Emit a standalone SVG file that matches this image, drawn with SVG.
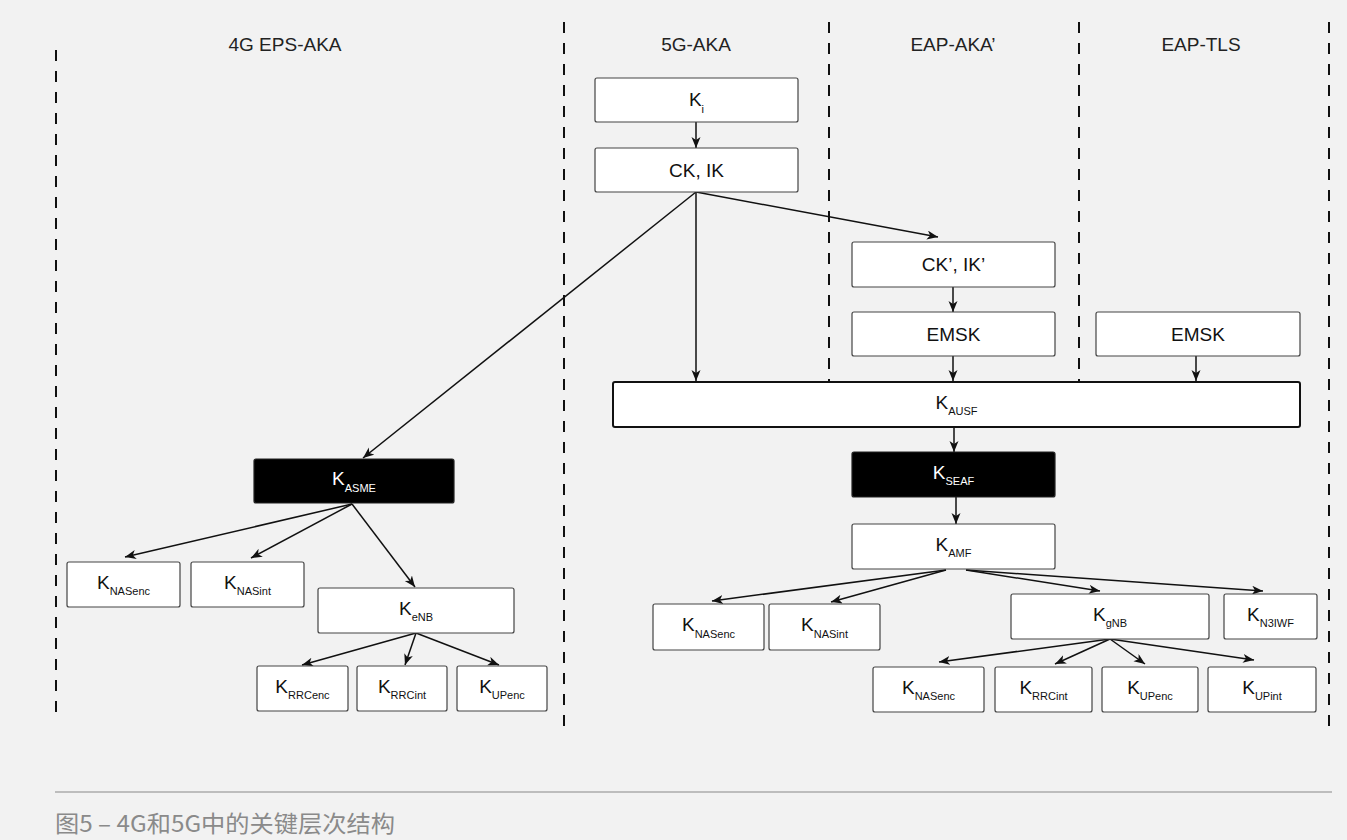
<svg xmlns="http://www.w3.org/2000/svg" width="1347" height="840" viewBox="0 0 1347 840">
<style>
.bg{fill:#f2f2f2}
.dash{stroke:#111;stroke-width:2;stroke-dasharray:11 10;fill:none}
.hdr{font-family:"Liberation Sans",Arial,sans-serif;font-size:19px;fill:#222;text-anchor:middle}
.box{fill:#fff;stroke:#444;stroke-width:1.2}
.boxb{fill:#000;stroke:#222;stroke-width:1.2}
.boxw{fill:#fff;stroke:#111;stroke-width:2}
.t{font-family:"Liberation Sans",Arial,sans-serif;font-size:19px;fill:#111;text-anchor:middle}
.tw{font-family:"Liberation Sans",Arial,sans-serif;font-size:19px;fill:#fff;text-anchor:middle}
.s{font-size:11px}
.c line{stroke:#111;stroke-width:1.5;marker-end:url(#ah)}
.cap{font-family:"Noto Sans CJK SC","Noto Sans",sans-serif;font-size:23px;fill:#8a8a8a}
</style>
<defs>
<marker id="ah" markerUnits="userSpaceOnUse" markerWidth="12" markerHeight="10" refX="11" refY="4.5" orient="auto">
<path d="M0,0 L11,4.5 L0,9 L3,4.5 z" fill="#111"/>
</marker>
</defs>
<rect class="bg" x="0" y="0" width="1347" height="840"/>
<g id="lanes">
<line class="dash" x1="56" y1="50" x2="56" y2="719"/>
<line class="dash" x1="564" y1="22" x2="564" y2="726"/>
<line class="dash" x1="829" y1="22" x2="829" y2="382"/>
<line class="dash" x1="1079" y1="22" x2="1079" y2="382"/>
<line class="dash" x1="1329" y1="22" x2="1329" y2="727"/>
<text class="hdr" x="285" y="51">4G EPS-AKA</text>
<text class="hdr" x="696" y="51">5G-AKA</text>
<text class="hdr" x="953" y="51">EAP-AKA’</text>
<text class="hdr" x="1201" y="51">EAP-TLS</text>
</g>
<g id="connectors" class="c">
<line x1="696" y1="122" x2="696" y2="148"/>
<line x1="696" y1="192" x2="363" y2="458"/>
<line x1="696" y1="192" x2="696" y2="381"/>
<line x1="696" y1="192" x2="938" y2="237"/>
<line x1="953" y1="287" x2="953" y2="312"/>
<line x1="953" y1="356" x2="953" y2="381"/>
<line x1="1196" y1="356" x2="1196" y2="381"/>
<line x1="954" y1="427" x2="954" y2="452"/>
<line x1="956" y1="497" x2="956" y2="524"/>
<line x1="946" y1="570" x2="712" y2="601"/>
<line x1="946" y1="570" x2="831" y2="602"/>
<line x1="966" y1="570" x2="1100" y2="591"/>
<line x1="966" y1="570" x2="1263" y2="591"/>
<line x1="1110" y1="639" x2="939" y2="662"/>
<line x1="1110" y1="639" x2="1055" y2="664"/>
<line x1="1110" y1="639" x2="1145" y2="664"/>
<line x1="1110" y1="639" x2="1254" y2="660"/>
<line x1="352" y1="504" x2="125" y2="557"/>
<line x1="352" y1="504" x2="251" y2="558"/>
<line x1="352" y1="504" x2="415" y2="587"/>
<line x1="416" y1="633" x2="302" y2="665"/>
<line x1="416" y1="633" x2="405" y2="665"/>
<line x1="416" y1="633" x2="499" y2="665"/>
</g>
<g id="n-ki"><rect class="box" x="595" y="78" width="203" height="44" rx="2"/><text class="t" x="696.5" y="106">K<tspan class="s" dy="6.5">i</tspan></text></g>
<g id="n-ckik"><rect class="box" x="595" y="148" width="203" height="44" rx="2"/><text class="t" x="696.5" y="177">CK, IK</text></g>
<g id="n-ckpikp"><rect class="box" x="852" y="242" width="203" height="45" rx="2"/><text class="t" x="953.5" y="271">CK’, IK’</text></g>
<g id="n-emsk1"><rect class="box" x="852" y="312" width="203" height="44" rx="2"/><text class="t" x="953.5" y="341">EMSK</text></g>
<g id="n-emsk2"><rect class="box" x="1096" y="312" width="204" height="44" rx="2"/><text class="t" x="1198" y="341">EMSK</text></g>
<g id="n-kausf"><rect class="boxw" x="613" y="382" width="687" height="45" rx="2"/><text class="t" x="956.5" y="408.5">K<tspan class="s" dy="6.5">AUSF</tspan></text></g>
<g id="n-kseaf"><rect class="boxb" x="852" y="452" width="203" height="45" rx="2"/><text class="tw" x="953.5" y="478.5">K<tspan class="s" dy="6.5">SEAF</tspan></text></g>
<g id="n-kamf"><rect class="box" x="852" y="524" width="203" height="45" rx="2"/><text class="t" x="953.5" y="550.5">K<tspan class="s" dy="6.5">AMF</tspan></text></g>
<g id="n-knasenc5"><rect class="box" x="653" y="604" width="111" height="46" rx="2"/><text class="t" x="708.5" y="631">K<tspan class="s" dy="6.5">NASenc</tspan></text></g>
<g id="n-knasint5"><rect class="box" x="769" y="604" width="111" height="46" rx="2"/><text class="t" x="824.5" y="631">K<tspan class="s" dy="6.5">NASint</tspan></text></g>
<g id="n-kgnb"><rect class="box" x="1011" y="594" width="198" height="45" rx="2"/><text class="t" x="1110" y="620.5">K<tspan class="s" dy="6.5">gNB</tspan></text></g>
<g id="n-kn3iwf"><rect class="box" x="1224" y="594" width="93" height="45" rx="2"/><text class="t" x="1270.5" y="620.5">K<tspan class="s" dy="6.5">N3IWF</tspan></text></g>
<g id="n-knasenc5b"><rect class="box" x="873" y="667" width="111" height="45" rx="2"/><text class="t" x="928.5" y="693.5">K<tspan class="s" dy="6.5">NASenc</tspan></text></g>
<g id="n-krrcint5"><rect class="box" x="995" y="667" width="97" height="45" rx="2"/><text class="t" x="1043.5" y="693.5">K<tspan class="s" dy="6.5">RRCint</tspan></text></g>
<g id="n-kupenc5"><rect class="box" x="1102" y="667" width="96" height="45" rx="2"/><text class="t" x="1150" y="693.5">K<tspan class="s" dy="6.5">UPenc</tspan></text></g>
<g id="n-kupint5"><rect class="box" x="1208" y="667" width="108" height="45" rx="2"/><text class="t" x="1262" y="693.5">K<tspan class="s" dy="6.5">UPint</tspan></text></g>
<g id="n-kasme"><rect class="boxb" x="254" y="459" width="200" height="44" rx="2"/><text class="tw" x="354" y="485">K<tspan class="s" dy="6.5">ASME</tspan></text></g>
<g id="n-knasenc4"><rect class="box" x="67" y="562" width="113" height="45" rx="2"/><text class="t" x="123.5" y="588.5">K<tspan class="s" dy="6.5">NASenc</tspan></text></g>
<g id="n-knasint4"><rect class="box" x="191" y="562" width="113" height="45" rx="2"/><text class="t" x="247.5" y="588.5">K<tspan class="s" dy="6.5">NASint</tspan></text></g>
<g id="n-kenb"><rect class="box" x="318" y="588" width="196" height="45" rx="2"/><text class="t" x="416" y="614.5">K<tspan class="s" dy="6.5">eNB</tspan></text></g>
<g id="n-krrcenc4"><rect class="box" x="257" y="666" width="91" height="45" rx="2"/><text class="t" x="302.5" y="692.5">K<tspan class="s" dy="6.5">RRCenc</tspan></text></g>
<g id="n-krrcint4"><rect class="box" x="357" y="666" width="90" height="45" rx="2"/><text class="t" x="402" y="692.5">K<tspan class="s" dy="6.5">RRCint</tspan></text></g>
<g id="n-kupenc4"><rect class="box" x="457" y="666" width="90" height="45" rx="2"/><text class="t" x="502" y="692.5">K<tspan class="s" dy="6.5">UPenc</tspan></text></g>
<g id="caption">
<line x1="55" y1="792" x2="1332" y2="792" stroke="#bdbdbd" stroke-width="2"/>
<text class="cap" x="55" y="832" textLength="340" lengthAdjust="spacingAndGlyphs">图5 – 4G和5G中的关键层次结构</text>
</g>
</svg>
